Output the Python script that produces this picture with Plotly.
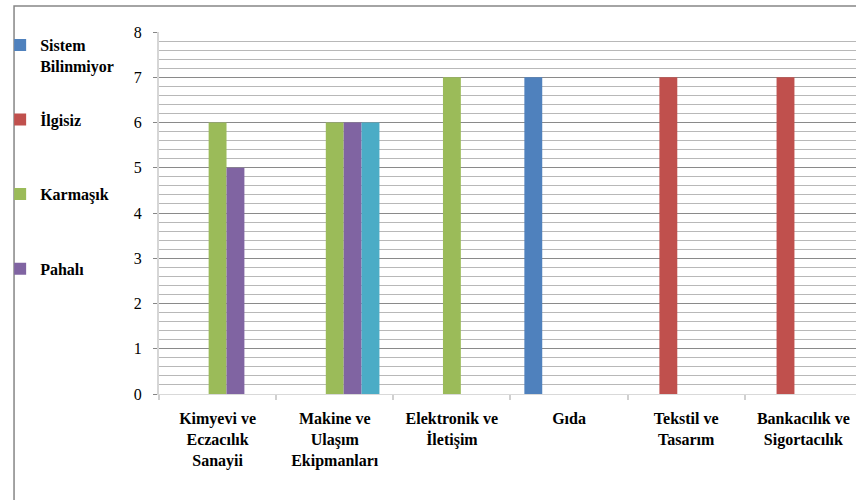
import plotly.graph_objects as go

# Sectors on the x axis (line breaks as shown under each group)
categories = [
    "Kimyevi ve<br>Eczacılık<br>Sanayii",
    "Makine ve<br>Ulaşım<br>Ekipmanları",
    "Elektronik ve<br>İletişim",
    "Gıda",
    "Tekstil ve<br>Tasarım",
    "Bankacılık ve<br>Sigortacılık",
]

# Counts per reason, one list per series
sistem_bilinmiyor = [0, 0, 0, 7, 0, 0]
ilgisiz = [0, 0, 0, 0, 7, 7]
karmasik = [6, 6, 7, 0, 0, 0]
pahali = [5, 6, 0, 0, 0, 0]
diger = [0, 6, 0, 0, 0, 0]

series = [
    ("Sistem<br>Bilinmiyor", sistem_bilinmiyor, "#4f81bd", True),
    ("İlgisiz<br> ", ilgisiz, "#c0504d", True),
    ("Karmaşık<br> ", karmasik, "#9bbb59", True),
    ("Pahalı<br> ", pahali, "#8064a2", True),
    ("Diğer", diger, "#4bacc6", False),
]

W, H = 856, 500
ML, MR, MT, MB = 154, 0, 32, 106
PW, PH = W - ML - MR, H - MT - MB

fig = go.Figure()
for i, (name, vals, color, show) in enumerate(series):
    fig.add_trace(go.Bar(
        x=categories, y=vals, name=name,
        marker=dict(color=color, line=dict(width=0)),
        legendgroup=f"g{i}", showlegend=show,
    ))


def px_x(px):
    return (px - ML) / PW


def px_y(py):
    return (H - MB - py) / PH


fig.update_layout(
    width=W, height=H,
    margin=dict(l=ML, r=MR, t=MT, b=MB),
    paper_bgcolor="white", plot_bgcolor="white",
    barmode="group", bargap=0.237, bargroupgap=0,
    legend=dict(
        x=px_x(-6), y=px_y(28), xanchor="left", yanchor="top",
        traceorder="grouped", tracegroupgap=30, valign="top",
        maxheight=460,
        font=dict(family="Liberation Serif", size=16, color="black", weight="bold"),
        bgcolor="rgba(0,0,0,0)",
    ),
    xaxis=dict(
        range=[-0.5, -0.5 + (W - ML) / 118.0],
        tickson="boundaries", ticks="outside", ticklen=5,
        tickcolor="#d0d0d0", tickwidth=2,
        showline=True, linecolor="#d9d9d9", linewidth=1,
        showgrid=False, ticklabelstandoff=10,
        tickfont=dict(family="Liberation Serif", size=16, color="black", weight="bold"),
    ),
    yaxis=dict(
        range=[0, 8], dtick=1, tick0=0,
        showline=True, linecolor="#d6d6d6", linewidth=2,
        ticks="outside", ticklen=4, tickcolor="#868686",
        showgrid=True, gridcolor="#8a8a8a", gridwidth=1,
        zeroline=False,
        minor=dict(dtick=0.2, showgrid=True, gridcolor="#b8b8b8", gridwidth=1),
        tickfont=dict(family="Liberation Serif", size=16, color="black"),
        ticklabelstandoff=8,
    ),
    shapes=[dict(
        type="rect", xref="paper", yref="paper", layer="below",
        x0=px_x(8), x1=px_x(W + 20), y0=px_y(H + 20), y1=px_y(6),
        line=dict(color="#868686", width=1.5), fillcolor="rgba(0,0,0,0)",
    )],
)

fig.write_html("out.html")
